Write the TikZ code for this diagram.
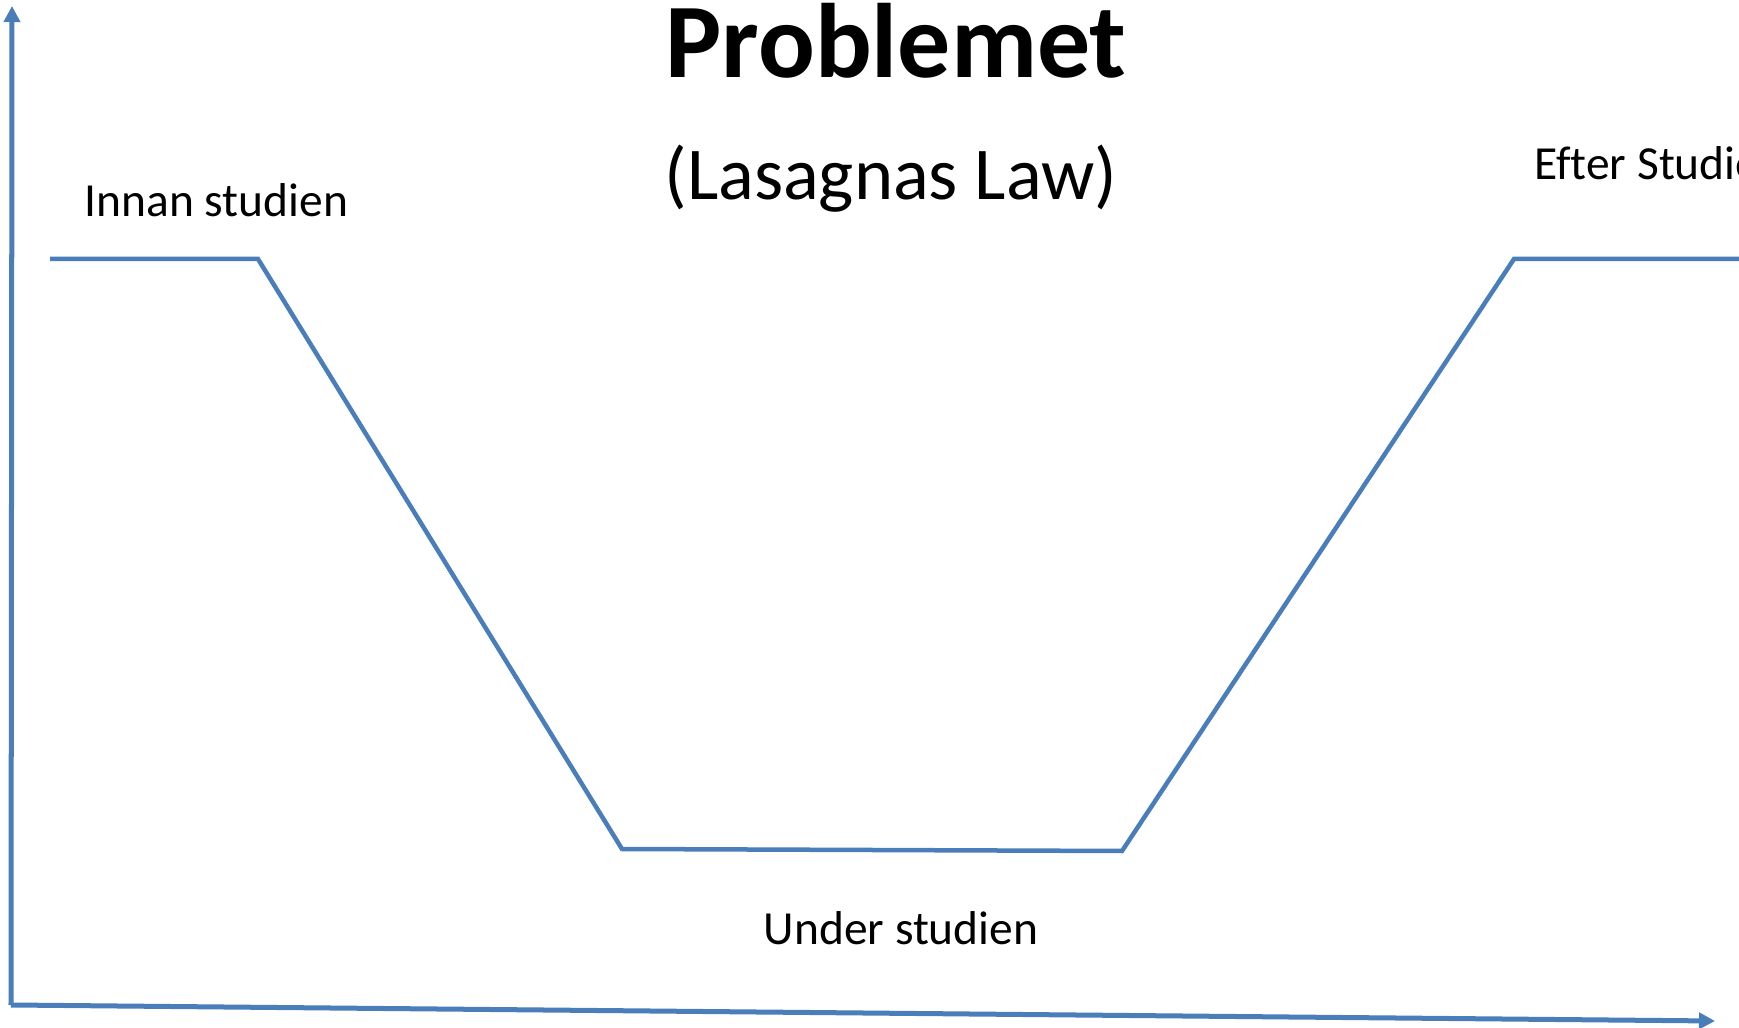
\documentclass[tikz,border=0pt]{standalone}
\usepackage{fontspec}
\setmainfont[Ligatures=NoCommon]{Carlito}
\usetikzlibrary{arrows.meta}
\definecolor{lineblue}{HTML}{4A7EBB}
\tikzset{
  curve/.style={draw=lineblue, line width=0.045cm, line join=miter},
  axis/.style={draw=lineblue, line width=0.05cm, -{Triangle[width=0.16cm,length=0.16cm]}},
  label/.style={inner sep=0pt, font=\fontsize{13.5pt}{16pt}\selectfont}
}
\begin{document}
\begin{tikzpicture}[x=0.01cm, y=-0.01cm]
\clip (0,0) rectangle (1739,1028);
\useasboundingbox (0,0) rectangle (1739,1028);

\node[inner sep=0pt, anchor=base, font=\fontsize{30.1pt}{36pt}\selectfont\bfseries] (title) at (896,78) {Problemet};
\node[inner sep=0pt, anchor=base, font=\fontsize{21.2pt}{25pt}\selectfont] (subtitle) at (891,200) {(Lasagnas Law)};
\node[label, anchor=base west] (before) at (84,217) {Innan studien};
\node[label, anchor=base west] (after) at (1534,180) {Efter Studien};
\node[label, anchor=base] (during) at (901,944) {Under studien};

\coordinate (origin) at (11,1005);
\coordinate (ytip) at (12,6);
\coordinate (xtip) at (1715,1021);
\draw[axis] (origin) -- (ytip);
\draw[axis] (origin) -- (xtip);

\coordinate (p1) at (50,259);
\coordinate (p2) at (258,259);
\coordinate (p3) at (622,849);
\coordinate (p4) at (1122,851);
\coordinate (p5) at (1514,259);
\coordinate (p6) at (1745,259);
\draw[curve] (p1) -- (p2) -- (p3) -- (p4) -- (p5) -- (p6);
\end{tikzpicture}
\end{document}
